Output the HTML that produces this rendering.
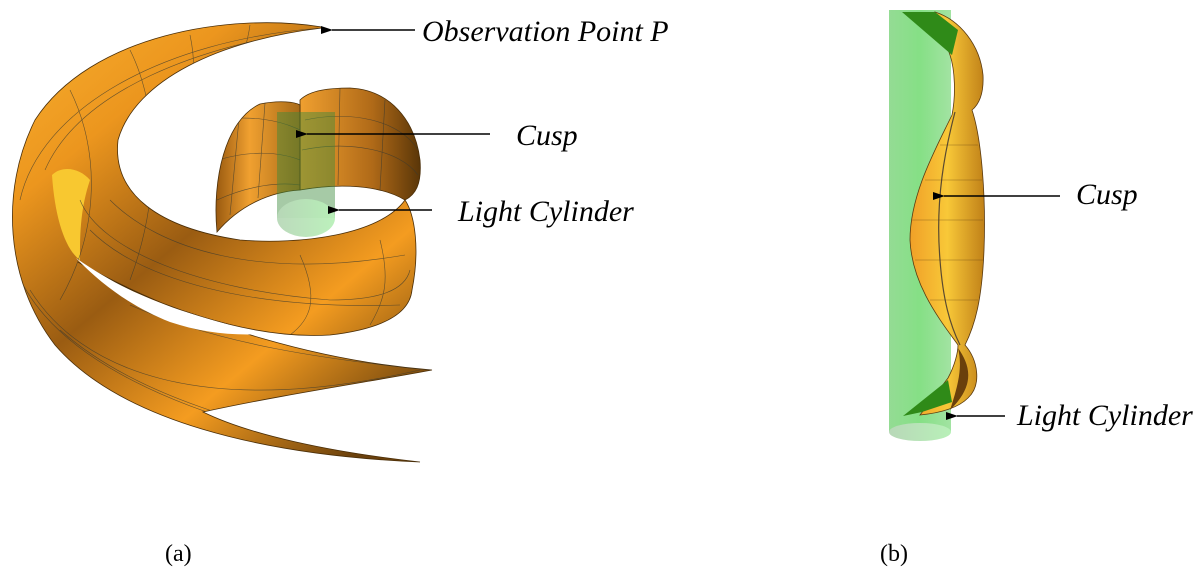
<!DOCTYPE html>
<html><head><meta charset="utf-8"><style>
html,body{margin:0;padding:0;background:#fff;}
svg{display:block;}
.l{font-family:"Liberation Serif",serif;font-style:italic;font-size:30px;fill:#000;}
.c{font-family:"Liberation Serif",serif;font-size:24px;fill:#000;}
</style></head><body>
<svg width="1200" height="578" viewBox="0 0 1200 578" xmlns="http://www.w3.org/2000/svg">
<defs>
<linearGradient id="og" x1="0" y1="0" x2="0.8" y2="1">
<stop offset="0" stop-color="#f8b030"/><stop offset="0.25" stop-color="#ec961e"/><stop offset="0.5" stop-color="#9a5c12"/><stop offset="0.75" stop-color="#f49c20"/><stop offset="1" stop-color="#6a400c"/>
</linearGradient>
<linearGradient id="bw" x1="0" y1="0" x2="1" y2="0">
<stop offset="0" stop-color="#f0a030"/><stop offset="0.6" stop-color="#b06a18"/><stop offset="1" stop-color="#5a3608"/>
</linearGradient>
<linearGradient id="ls" x1="0" y1="0" x2="1" y2="0">
<stop offset="0" stop-color="#9a5a10"/><stop offset="0.4" stop-color="#f0a030"/><stop offset="1" stop-color="#a86a18"/>
</linearGradient>
<linearGradient id="gc" x1="0" y1="0" x2="1" y2="0">
<stop offset="0" stop-color="#88d888"/><stop offset="0.5" stop-color="#78dc78"/><stop offset="1" stop-color="#98e098"/>
</linearGradient>
<linearGradient id="rb" x1="0" y1="0" x2="1" y2="0">
<stop offset="0" stop-color="#f0a028"/><stop offset="0.5" stop-color="#f8c838"/><stop offset="1" stop-color="#c08018"/>
</linearGradient>
<linearGradient id="ce" x1="0" y1="0" x2="1" y2="0">
<stop offset="0" stop-color="#b8d8b8"/><stop offset="1" stop-color="#b8f0b8"/>
</linearGradient>
<marker id="ah" markerWidth="12" markerHeight="8" refX="1" refY="4" orient="auto-start-reverse" markerUnits="userSpaceOnUse">
<path d="M12,0 L0,4 L12,8 Z" fill="#000"/>
</marker>
<clipPath id="bodyclip">
<path d="M322,27 C230,12 90,35 35,120 C0,190 5,280 55,345 C120,420 260,455 420,462 C330,452 250,435 203,412 C280,395 380,380 432,370 C330,362 200,330 78,262 C150,305 250,340 330,335 C390,328 410,310 412,290 C420,250 415,215 405,200 C380,235 300,245 240,240 C160,228 112,195 118,140 C135,80 220,40 322,28 Z"/>
<path d="M300,100 C310,90 330,88 350,88 C390,90 415,120 420,160 C422,185 415,195 405,200 C380,185 340,183 300,190 Z"/>
<path d="M217,232 C212,180 225,120 260,104 C280,100 295,102 300,105 L300,190 C270,192 240,205 217,232 Z"/>
</clipPath>
</defs>

<!-- (a) spiral main body -->
<path d="M322,27 C230,12 90,35 35,120 C0,190 5,280 55,345 C120,420 260,455 420,462 C330,452 250,435 203,412 C280,395 380,380 432,370 C330,362 200,330 78,262 C150,305 250,340 330,335 C390,328 410,310 412,290 C420,250 415,215 405,200 C380,235 300,245 240,240 C160,228 112,195 118,140 C135,80 220,40 322,28 Z" fill="url(#og)" stroke="#4a2e08" stroke-width="0.8"/>
<path d="M52,175 C62,165 80,168 90,180 C80,210 80,235 80,260 C66,250 55,220 52,175 Z" fill="#f8c830"/>
<path d="M300,100 C310,90 330,88 350,88 C390,90 415,120 420,160 C422,185 415,195 405,200 C380,185 340,183 300,190 Z" fill="url(#bw)" stroke="#4a2e08" stroke-width="0.8"/>
<path d="M217,232 C212,180 225,120 260,104 C280,100 295,102 300,105 L300,190 C270,192 240,205 217,232 Z" fill="url(#ls)" stroke="#4a2e08" stroke-width="0.8"/>
<!-- grid lines -->
<g stroke="#3a3a30" stroke-width="0.6" fill="none" opacity="0.75" clip-path="url(#bodyclip)">
<path d="M20,200 C40,110 160,40 322,28"/><path d="M45,170 C80,90 200,45 320,29"/>
<path d="M10,250 C30,340 150,420 410,460"/><path d="M30,290 C80,370 200,420 420,370"/>
<path d="M80,200 C100,250 200,290 330,300 C380,300 405,290 410,270"/>
<path d="M90,230 C140,280 250,310 400,305"/><path d="M110,200 C160,250 260,280 405,255"/>
<path d="M130,305 C220,345 330,360 430,370"/><path d="M60,330 C140,400 260,430 420,462"/>
<path d="M70,90 C100,150 100,230 60,300"/><path d="M130,50 C160,110 160,200 130,280"/>
<path d="M190,35 C200,80 190,130 165,210"/><path d="M250,25 C245,60 230,90 200,120"/>
<path d="M220,120 C250,115 280,120 300,130"/><path d="M218,160 C250,150 280,152 300,160"/><path d="M217,200 C250,185 280,182 300,185"/>
<path d="M305,120 C350,110 400,120 418,150"/><path d="M302,150 C350,140 400,150 418,175"/>
<path d="M240,108 L230,215"/><path d="M265,103 L258,198"/><path d="M340,88 L338,185"/><path d="M385,100 L380,190"/>
<path d="M300,255 C320,300 310,320 290,335"/><path d="M380,240 C390,280 385,300 370,325"/>
</g>
<!-- white gap sliver -->
<path d="M76,258 C110,282 140,296 180,310 C210,320 240,328 265,334 C230,336 200,332 170,322 C135,308 105,288 76,258 Z" fill="#fff"/>
<!-- light cylinder (a) -->
<rect x="277" y="112" width="58" height="106" fill="#3a8a3a" opacity="0.45"/>
<ellipse cx="306" cy="218" rx="29" ry="19" fill="url(#ce)" opacity="0.95"/>

<!-- (b) cylinder -->
<rect x="889" y="10" width="62" height="422" fill="url(#gc)" opacity="0.9"/>
<ellipse cx="920" cy="432" rx="31" ry="9" fill="url(#ce)"/>
<path d="M935,12 C960,20 980,45 983,75 C984,95 978,105 972,110 C982,140 986,200 984,250 C982,300 975,325 965,345 C978,360 982,385 968,398 C958,408 940,413 920,415 L948,378 C955,365 958,352 958,345 C940,320 912,285 910,240 C910,195 935,150 952,115 C956,95 955,70 950,55 Z" fill="url(#rb)" stroke="#5a3a10" stroke-width="0.8"/>
<path d="M955,112 C945,150 935,200 940,260 C943,300 950,325 960,345" fill="none" stroke="#5a4a30" stroke-width="1.2"/>
<path d="M958,348 C970,365 976,385 950,410 C960,380 962,365 958,348 Z" fill="#6a400c"/>
<g stroke="#5a3a10" stroke-width="0.5" opacity="0.6">
<line x1="912" y1="220" x2="983" y2="220"/><line x1="915" y1="260" x2="984" y2="260"/><line x1="925" y1="180" x2="982" y2="180"/><line x1="930" y1="300" x2="978" y2="300"/><line x1="940" y1="145" x2="978" y2="145"/>
</g>
<path d="M902,12 L935,12 L958,30 L952,55 Z" fill="#2f8a18"/>
<path d="M903,416 L948,380 L952,402 L922,412 Z" fill="#2f8a18"/>

<!-- arrows & labels -->
<g stroke="#000" stroke-width="1.6">
<line x1="415" y1="30" x2="332" y2="30" marker-end="url(#ah)"/>
<line x1="490" y1="134" x2="307" y2="134" marker-end="url(#ah)"/>
<line x1="432" y1="210" x2="339" y2="210" marker-end="url(#ah)"/>
<line x1="1060" y1="196" x2="944" y2="196" marker-end="url(#ah)"/>
<line x1="1005" y1="416" x2="957" y2="416" marker-end="url(#ah)"/>
</g>
<text class="l" x="422" y="41">Observation Point P</text>
<text class="l" x="516" y="145">Cusp</text>
<text class="l" x="458" y="221">Light Cylinder</text>
<text class="l" x="1076" y="204">Cusp</text>
<text class="l" x="1017" y="425">Light Cylinder</text>
<text class="c" x="165" y="561">(a)</text>
<text class="c" x="880" y="561">(b)</text>
</svg>
</body></html>
